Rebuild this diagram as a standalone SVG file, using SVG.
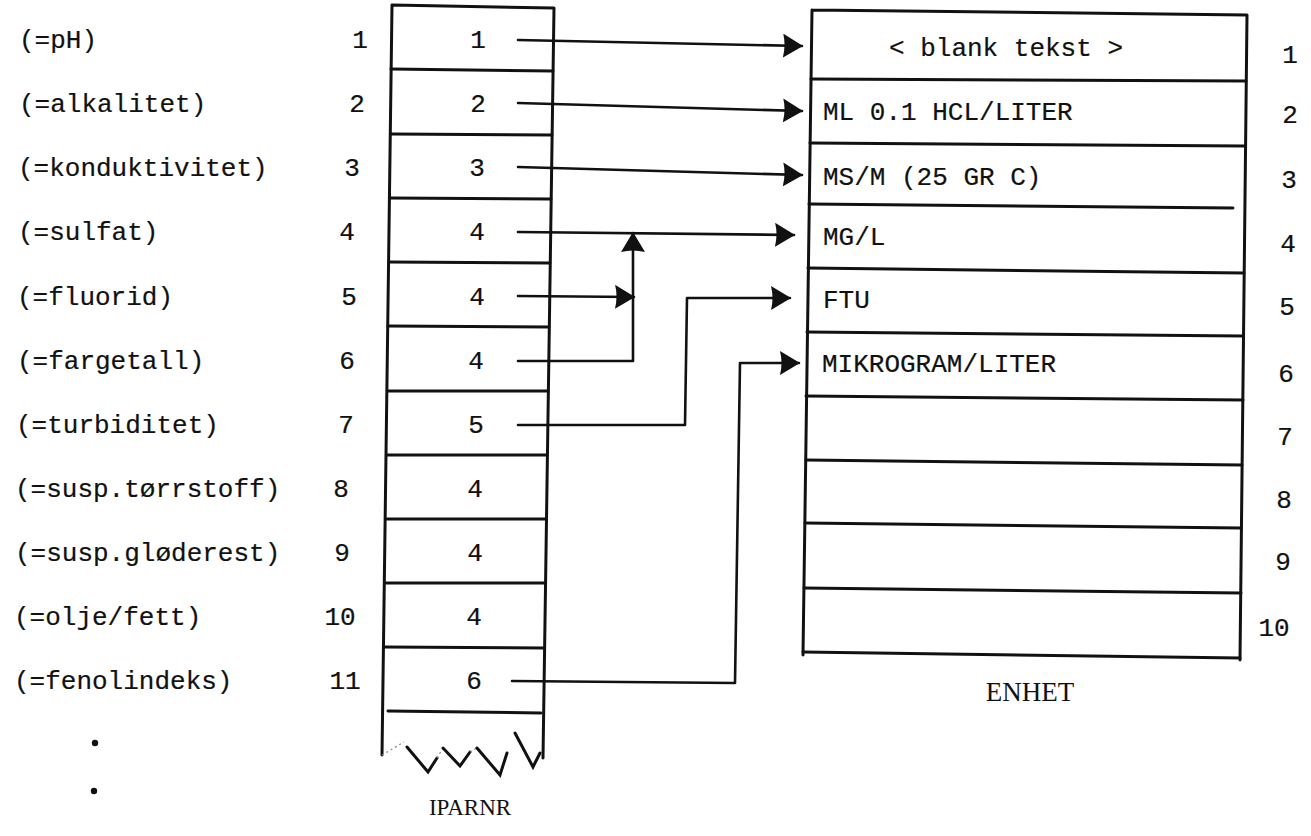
<svg xmlns="http://www.w3.org/2000/svg" width="1311" height="836" viewBox="0 0 1311 836">
<style>
.t{font-family:"Liberation Mono","Courier New",monospace;font-size:26px;fill:#111;stroke:#111;stroke-width:0.2}
.c{text-anchor:middle}
.cap{font-family:"Liberation Serif","Times New Roman",serif;fill:#111;text-anchor:middle}
.b{fill:none;stroke:#111;stroke-width:3;stroke-linecap:round;stroke-linejoin:round}
.l{fill:none;stroke:#111;stroke-width:2.6;stroke-linecap:round;stroke-linejoin:round}
.z{fill:none;stroke:#111;stroke-width:3;stroke-linecap:round;stroke-linejoin:miter}
.d{fill:none;stroke:#888;stroke-width:1.2;stroke-dasharray:2,3}
</style>
<defs>
<marker id="ah" viewBox="0 0 20 24" refX="19" refY="12" markerWidth="20" markerHeight="24" markerUnits="userSpaceOnUse" orient="auto">
<path d="M0,0 L20,12 L0,24 Q3,12 0,0 z" fill="#111"/>
</marker>
</defs>
<rect width="1311" height="836" fill="#fff"/>

<g id="labels">
<text class="t" x="19" y="48">(=pH)</text>
<text class="t" x="19" y="112">(=alkalitet)</text>
<text class="t" x="18" y="176">(=konduktivitet)</text>
<text class="t" x="18" y="240">(=sulfat)</text>
<text class="t" x="17" y="305">(=fluorid)</text>
<text class="t" x="17" y="369">(=fargetall)</text>
<text class="t" x="16" y="433">(=turbiditet)</text>
<text class="t" x="15" y="497">(=susp.tørrstoff)</text>
<text class="t" x="15" y="561">(=susp.gløderest)</text>
<text class="t" x="14" y="625">(=olje/fett)</text>
<text class="t" x="14" y="689">(=fenolindeks)</text>
<text class="t c" x="360" y="48">1</text>
<text class="t c" x="357" y="112">2</text>
<text class="t c" x="352" y="176">3</text>
<text class="t c" x="347" y="240">4</text>
<text class="t c" x="349" y="305">5</text>
<text class="t c" x="347" y="369">6</text>
<text class="t c" x="346" y="433">7</text>
<text class="t c" x="341" y="497">8</text>
<text class="t c" x="342" y="561">9</text>
<text class="t c" x="340" y="625">10</text>
<text class="t c" x="345" y="689">11</text>
<circle cx="95" cy="743" r="3.2" fill="#111"/>
<circle cx="94" cy="791" r="3.2" fill="#111"/>
</g>

<g id="iparnr">
<path class="b" d="M392,5 L554,8 M392,5 L382,755 M554,8 L543,758"/>
<path class="b" d="M391,69 L553,71 M391,134 L552,135 M390,198 L551,199 M389,262 L550,263 M388,326 L549,327 M388,391 L548,391 M387,455 L547,455 M387,519 L546,519 M386,583 L545,583 M385,647 L544,648 M388,711 L541,713"/>
<path class="d" d="M382,755 L404,742"/>
<path class="z" d="M407,747 L428,772 L437,758"/>
<path class="d" d="M437,758 L443,748"/>
<path class="z" d="M443,748 L460,766 L470,752"/>
<path class="d" d="M470,752 L477,748"/>
<path class="z" d="M477,748 L500,775 L507,753"/>
<path class="z" d="M515,733 L533,767 L540,753"/>
<text class="t c" x="478" y="48">1</text>
<text class="t c" x="478" y="112">2</text>
<text class="t c" x="477" y="176">3</text>
<text class="t c" x="477" y="240">4</text>
<text class="t c" x="477" y="305">4</text>
<text class="t c" x="476" y="369">4</text>
<text class="t c" x="476" y="433">5</text>
<text class="t c" x="475" y="497">4</text>
<text class="t c" x="475" y="561">4</text>
<text class="t c" x="474" y="625">4</text>
<text class="t c" x="474" y="689">6</text>
<text class="cap" x="470" y="815" font-size="23">IPARNR</text>
</g>

<g id="enhet">
<path class="b" d="M812,10 L1247,15 M812,10 L803,655 M1247,15 L1240,660"/>
<path class="b" d="M811,79 L1246,81 M810,143 L1245,146 M809,204 L1233,208 M808,268 L1244,273 M807,332 L1243,336 M806,396 L1243,400 M806,460 L1242,465 M805,523 L1241,528 M804,588 L1241,593 M803,652 L1240,658"/>
<text class="t c" x="1006" y="56">&lt; blank tekst &gt;</text>
<text class="t" x="823" y="120">ML 0.1 HCL/LITER</text>
<text class="t" x="823" y="185">MS/M (25 GR C)</text>
<text class="t" x="823" y="245">MG/L</text>
<text class="t" x="823" y="308">FTU</text>
<text class="t" x="822" y="372">MIKROGRAM/LITER</text>
<text class="t c" x="1290" y="63">1</text>
<text class="t c" x="1290" y="123">2</text>
<text class="t c" x="1289" y="188">3</text>
<text class="t c" x="1288" y="252">4</text>
<text class="t c" x="1287" y="315">5</text>
<text class="t c" x="1286" y="382">6</text>
<text class="t c" x="1285" y="445">7</text>
<text class="t c" x="1284" y="508">8</text>
<text class="t c" x="1283" y="570">9</text>
<text class="t c" x="1274" y="636">10</text>
<text class="cap" x="1030" y="701" font-size="27">ENHET</text>
</g>

<g id="connectors">
<path class="l" d="M518,40 L802,46" marker-end="url(#ah)"/>
<path class="l" d="M518,103 L802,111" marker-end="url(#ah)"/>
<path class="l" d="M518,167 L802,175" marker-end="url(#ah)"/>
<path class="l" d="M518,232 L794,235" marker-end="url(#ah)"/>
<path class="l" d="M518,296 L634,297" marker-end="url(#ah)"/>
<path class="l" d="M518,361 L633,361 L633,233" marker-end="url(#ah)"/>
<path class="l" d="M518,425 L685,425 L687,298 L790,298" marker-end="url(#ah)"/>
<path class="l" d="M512,681 L735,683 L740,363 L799,363" marker-end="url(#ah)"/>
</g>
</svg>
